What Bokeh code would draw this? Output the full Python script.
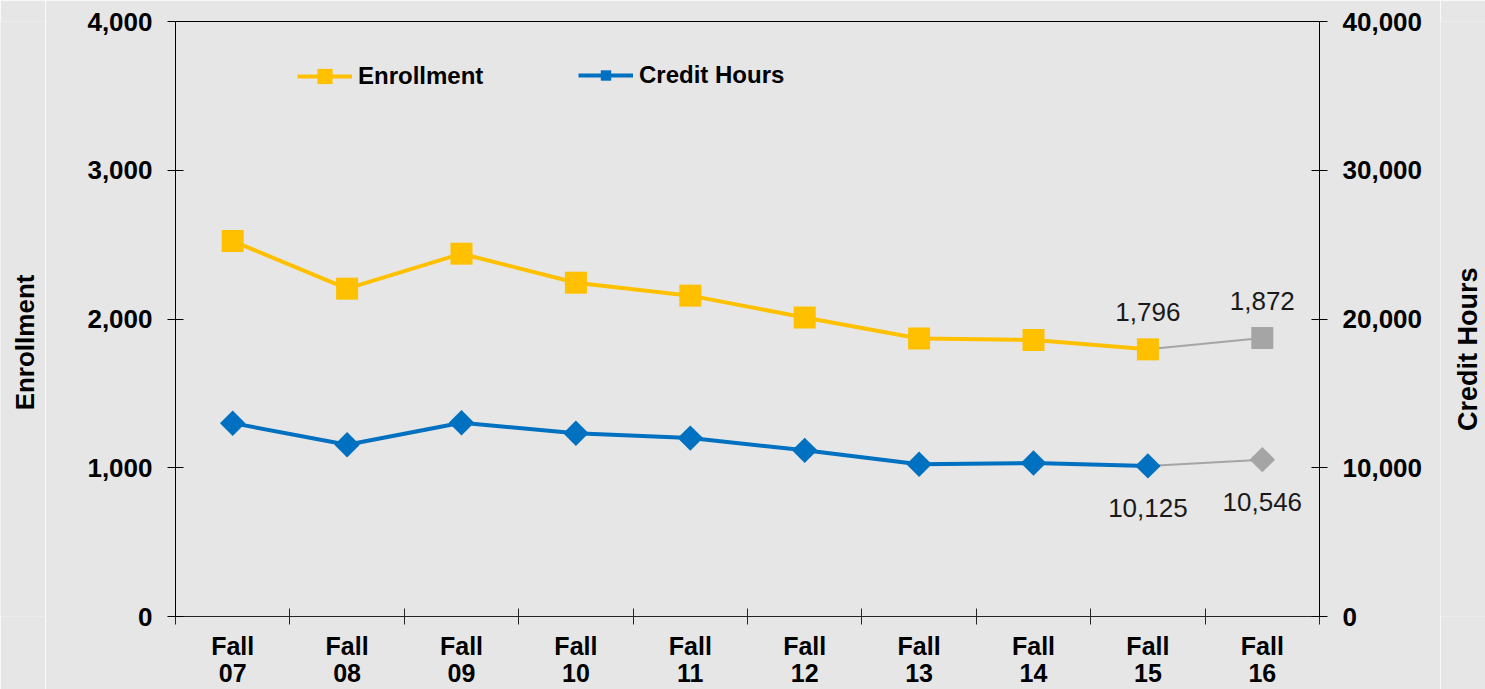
import math
from bokeh.plotting import figure
from bokeh.layouts import row
from bokeh.models import (Range1d, LinearAxis, FixedTicker, NumeralTickFormatter,
                          Legend, LegendItem)
from bokeh.core.properties import value
from bokeh.embed import file_html
from bokeh.resources import INLINE

# ---------------- data ----------------
terms = ["Fall\n07", "Fall\n08", "Fall\n09", "Fall\n10", "Fall\n11",
         "Fall\n12", "Fall\n13", "Fall\n14", "Fall\n15", "Fall\n16"]
enrollment = [2524, 2204, 2439, 2244, 2157, 2010, 1869, 1859, 1796, 1872]
credit_hours = [12998, 11551, 13025, 12322, 11993, 11169, 10231, 10318, 10125, 10546]
enroll_ticks = [0, 1000, 2000, 3000, 4000]
credit_ticks = [0, 10000, 20000, 30000, 40000]
labeled_idx = [8, 9]      # points that carry a value label
last_actual = 8           # Fall 15 is the last actual; Fall 16 is shown in gray
left_title = "Enrollment"
right_title = "Credit Hours"

FONT = "Liberation Sans"
YELLOW = "#FFC000"
BLUE = "#0070C0"
GRAY = "#A5A5A5"
BG = "#e6e6e6"

H = 689
TOP = 21
BOTTOM = 72
SIDE_W = 45
MAIN_W = 1485 - 2 * SIDE_W

n = len(terms)
xs = list(range(n))

p = figure(width=MAIN_W, height=H, output_backend="svg", toolbar_location=None,
           x_range=Range1d(-0.5, n - 0.5), y_range=Range1d(0, 4000),
           min_border_left=175 - SIDE_W, min_border_right=1485 - SIDE_W - 1319,
           min_border_top=TOP, min_border_bottom=BOTTOM)
p.extra_y_ranges = {"ch": Range1d(0, 40000)}
p.background_fill_color = BG
p.border_fill_color = BG
p.outline_line_color = "black"
p.outline_line_width = 1
p.xgrid.visible = False
p.ygrid.visible = False

# x axis: labels at centers, tick marks at category boundaries
xa = p.xaxis[0]
xa.ticker = FixedTicker(ticks=xs, minor_ticks=[i - 0.5 for i in range(n + 1)])
xa.major_label_overrides = {i: t for i, t in enumerate(terms)}
xa.major_tick_line_color = None
xa.major_tick_out = 8
xa.major_tick_in = 0
xa.minor_tick_line_color = "#262626"
xa.minor_tick_in = 8
xa.minor_tick_out = 8
xa.axis_line_color = "#262626"
xa.major_label_text_font = FONT
xa.major_label_text_font_size = "25px"
xa.major_label_text_font_style = "bold"
xa.major_label_text_color = "black"
xa.major_label_standoff = 7
xa.major_label_text_line_height = 0.97

# y axes
ya = p.yaxis[0]
ya.ticker = FixedTicker(ticks=enroll_ticks)
ya.formatter = NumeralTickFormatter(format="0,0")

ra = LinearAxis(y_range_name="ch", ticker=FixedTicker(ticks=credit_ticks),
                formatter=NumeralTickFormatter(format="0,0"))
p.add_layout(ra, "right")

for ax in (ya, ra):
    ax.major_tick_in = 8
    ax.major_tick_out = 8
    ax.minor_tick_line_color = None
    ax.major_tick_line_color = "black"
    ax.axis_line_color = "black"
    ax.major_label_text_font = FONT
    ax.major_label_text_font_size = "26px"
    ax.major_label_text_font_style = "bold"
    ax.major_label_text_color = "black"
    ax.major_label_standoff = 15

# ---------------- series ----------------
a = slice(0, last_actual + 1)
b = slice(last_actual, n)
c = slice(last_actual + 1, n)

enr_line = p.line(xs[a], enrollment[a], line_color=YELLOW, line_width=4, line_join="round")
p.line(xs[b], enrollment[b], line_color=GRAY, line_width=2)
ch_line = p.line(xs[a], credit_hours[a], y_range_name="ch", line_color=BLUE,
                 line_width=4, line_join="round")
p.line(xs[b], credit_hours[b], y_range_name="ch", line_color=GRAY, line_width=2)

enr_pts = p.scatter(xs[a], enrollment[a], marker="square", size=22,
                    fill_color=YELLOW, line_color=None)
p.scatter(xs[c], enrollment[c], marker="square", size=22, fill_color=GRAY, line_color=None)
ch_pts = p.scatter(xs[a], credit_hours[a], y_range_name="ch", marker="square",
                   angle=math.pi / 4, size=18, fill_color=BLUE, line_color=None)
p.scatter(xs[c], credit_hours[c], y_range_name="ch", marker="square",
          angle=math.pi / 4, size=18, fill_color=GRAY, line_color=None)

# value labels
p.text(x=[xs[i] for i in labeled_idx], y=[enrollment[i] for i in labeled_idx],
       text=[f"{enrollment[i]:,}" for i in labeled_idx],
       text_align="center", text_baseline="middle", y_offset=-37,
       text_font=value(FONT), text_font_size="26px", text_color="#1a1a1a")
p.text(x=[xs[i] for i in labeled_idx], y=[credit_hours[i] for i in labeled_idx],
       text=[f"{credit_hours[i]:,}" for i in labeled_idx], y_range_name="ch",
       text_align="center", text_baseline="middle", y_offset=42,
       text_font=value(FONT), text_font_size="26px", text_color="#1a1a1a")

# ---------------- legends ----------------
def make_legend(label, rends, loc, gh):
    return Legend(items=[LegendItem(label=label, renderers=rends)], location=loc,
                  orientation="horizontal", glyph_width=55, glyph_height=gh,
                  label_height=gh, label_standoff=6, padding=0, margin=0,
                  border_line_color=None, background_fill_alpha=0,
                  label_text_font=FONT, label_text_font_size="24px",
                  label_text_font_style="bold", label_text_color="black")

p.add_layout(make_legend("Enrollment", [enr_line, enr_pts], (122, 521), 38))
p.add_layout(make_legend("Credit Hours", [ch_line, ch_pts], (403, 527), 26))

# ---------------- axis titles (narrow side strips, text reads bottom-to-top) ----------------
def title_strip(text, cx, cy, size):
    # y range in page pixels (frame aligned with the main plot frame)
    f = figure(width=SIDE_W, height=H, output_backend="svg", toolbar_location=None,
               x_range=Range1d(0, SIDE_W), y_range=Range1d(H - BOTTOM, TOP),
               x_axis_type=None, y_axis_type=None,
               min_border_left=0, min_border_right=0,
               min_border_top=TOP, min_border_bottom=BOTTOM,
               outline_line_color=None)
    f.background_fill_color = BG
    f.border_fill_color = BG
    f.grid.visible = False
    f.text(x=[cx], y=[cy], text=[text], angle=math.pi / 2,
           text_align="center", text_baseline="middle",
           text_font=value(FONT), text_font_size=size, text_font_style="bold",
           text_color="black")
    return f

left_strip = title_strip(left_title, 24.7, 342.5, "26px")
right_strip = title_strip(right_title, 27.5, 349.2, "27px")

layout = row(left_strip, p, right_strip, spacing=0)
open("out.html", "w").write(file_html(layout, INLINE))
